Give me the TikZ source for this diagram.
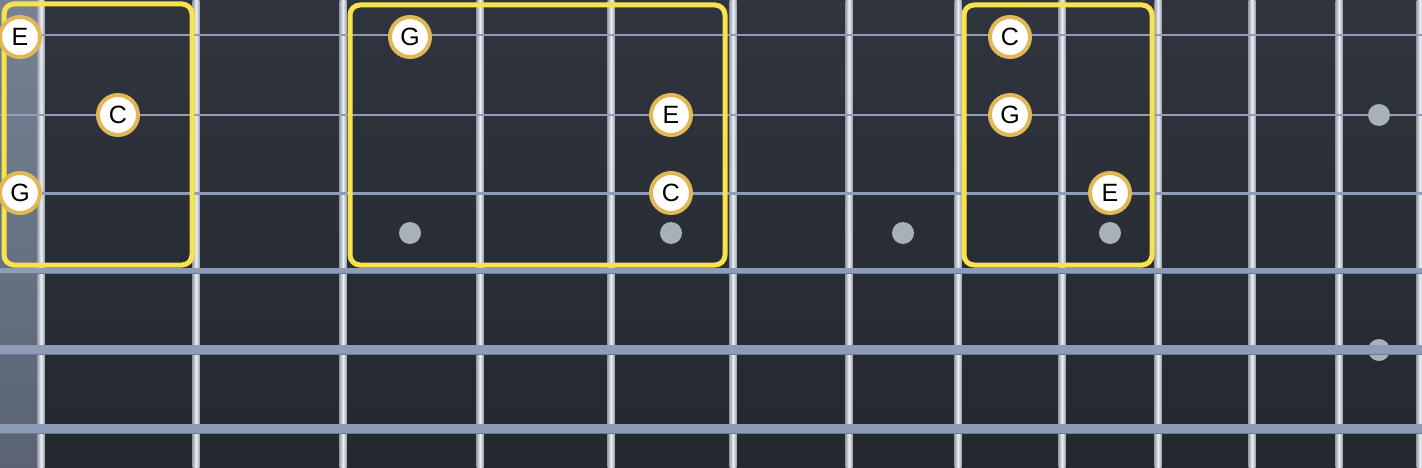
\documentclass[tikz,border=0pt]{standalone}
\usepackage{fontspec}
\setmainfont{Liberation Sans}
\usetikzlibrary{positioning}
\definecolor{boardtop}{HTML}{2F343E}
\definecolor{boardbot}{HTML}{24282F}
\definecolor{nuttop}{HTML}{768294}
\definecolor{nutbot}{HTML}{596373}
\definecolor{fretedge}{HTML}{9CA2AE}
\definecolor{fretlight}{HTML}{ECEEF3}
\definecolor{wirecol}{HTML}{8F9CB7}
\definecolor{wireshade}{HTML}{6E7A92}
\definecolor{chordyellow}{HTML}{F8E34A}
\definecolor{notering}{HTML}{E2B756}
\definecolor{inlaygray}{HTML}{A7B1B7}
\tikzset{note/.style = {circle, draw=notering, line width=4pt, fill=white,
                        minimum size=40pt, inner sep=0pt,
                        font=\fontsize{25}{25}\selectfont},
         chordbox/.style = {draw=chordyellow, line width=5pt, rounded corners=10pt},
         inlay/.style = {circle, fill=inlaygray, minimum size=22pt, inner sep=0pt}}

\begin{document}
\begin{tikzpicture}[x=1pt, y=-1pt]
      \clip (0, 0) rectangle (1422, 468);
      \shade [top color=boardtop, bottom color=boardbot] (0, 0) rectangle (1422, 468);
      \shade [top color=nuttop, bottom color=nutbot] (0, 0) rectangle (38, 468);

      % frets
      \foreach \x in {41,196,343,480,611,733,849,958,1062,1158,1252,1339,1420} {
        \shade [left color=fretedge, right color=fretedge, middle color=fretlight]
          (\x-3.5, 0) rectangle (\x+3.5, 468);
      }

      \node [inlay] (m5) at (1379, 350) {};

      % strings
      \foreach \y/\w in {35/2,115/2,193/3,271/6,350/10,429/10} {
        \draw [wirecol, line width=\w pt] (0, \y) -- (1422, \y);
      }
      \foreach \y/\w in {271/6,350/10,429/10} {
        \draw [wireshade, line width=1.2pt] (0, \y+\w/2-0.6) -- (1422, \y+\w/2-0.6);
      }

      \foreach \x/\y [count=\i] in {410/233,671/233,903/233,1110/233,1379/115} {
        \node [inlay] (m\i) at (\x, \y) {};
      }

      % chord shapes
      \draw [chordbox] (4, 4) rectangle (192, 265);
      \draw [chordbox] (350, 5) rectangle (725, 265);
      \draw [chordbox] (964, 5) rectangle (1152, 265);

      \node [note] (e1) at (20, 37) {E};
      \node [note] (c1) at (118, 115) {C};
      \node [note] (g1) at (20, 193) {G};

      \node [note] (g2) at (410, 37) {G};
      \node [note] (e2) at (671, 115) {E};
      \node [note] (c2) at (671, 193) {C};

      \node [note] (c3) at (1010, 37) {C};
      \node [note] (g3) at (1010, 115) {G};
      \node [note] (e3) at (1110, 193) {E};
    \end{tikzpicture}
\end{document}
